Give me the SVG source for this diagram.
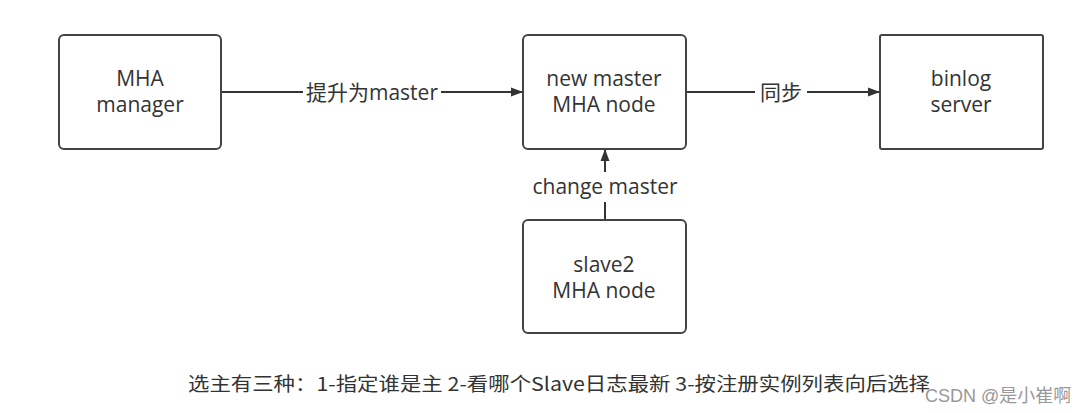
<svg xmlns="http://www.w3.org/2000/svg" width="1086" height="413" viewBox="0 0 1086 413">
<style>
.box{fill:#fff;stroke:#444;stroke-width:2}
.t{font-family:"Open Sans","Noto Sans","Noto Sans CJK SC",sans-serif;font-size:21px;fill:#333;text-anchor:middle}
.lbl{font-family:"Open Sans","Noto Sans","Noto Sans CJK SC",sans-serif;font-size:21px;fill:#333;text-anchor:middle}
.line{stroke:#333;stroke-width:2;fill:none}
.note{font-family:"Noto Sans CJK SC",sans-serif;font-size:19px;fill:#333}
.wm{font-family:"Liberation Sans","Noto Sans CJK SC",sans-serif;font-size:18px;fill:#999}
</style>
<defs>
<marker id="ah" markerWidth="12" markerHeight="10" refX="11" refY="5" orient="auto" markerUnits="userSpaceOnUse">
<path d="M0,0.5 L12,5 L0,9.5 Z" fill="#333"/>
</marker>
</defs>
<rect width="1086" height="413" fill="#fff"/>
<g id="connectors">
<line class="line" x1="221" y1="92" x2="303" y2="92"/>
<line class="line" x1="441" y1="92" x2="522" y2="92" marker-end="url(#ah)"/>
<text class="lbl" x="372" y="100">提升为master</text>
<line class="line" x1="686" y1="92" x2="755" y2="92"/>
<line class="line" x1="807" y1="92" x2="879" y2="92" marker-end="url(#ah)"/>
<text class="lbl" x="781" y="100">同步</text>
<line class="line" x1="605" y1="220" x2="605" y2="202"/>
<line class="line" x1="605" y1="172" x2="605" y2="150" marker-end="url(#ah)"/>
<text class="lbl" x="605" y="194">change master</text>
</g>
<g id="mha-manager">
<rect class="box" x="59" y="35" width="162" height="114" rx="5"/>
<text class="t" x="140" y="86">MHA</text>
<text class="t" x="140" y="112">manager</text>
</g>
<g id="new-master">
<rect class="box" x="523" y="35" width="163" height="114" rx="5"/>
<text class="t" x="604" y="86">new master</text>
<text class="t" x="604" y="112">MHA node</text>
</g>
<g id="binlog-server">
<rect class="box" x="880" y="35" width="163" height="114" rx="2"/>
<text class="t" x="961" y="86">binlog</text>
<text class="t" x="961" y="112">server</text>
</g>
<g id="slave2">
<rect class="box" x="523" y="220" width="163" height="113" rx="5"/>
<text class="t" x="604" y="272">slave2</text>
<text class="t" x="604" y="298">MHA node</text>
</g>
<text class="note" x="188" y="391" textLength="742" lengthAdjust="spacingAndGlyphs">选主有三种：1-指定谁是主 2-看哪个Slave日志最新 3-按注册实例列表向后选择</text>
<text class="wm" x="925" y="402">CSDN @是小崔啊</text>
</svg>
